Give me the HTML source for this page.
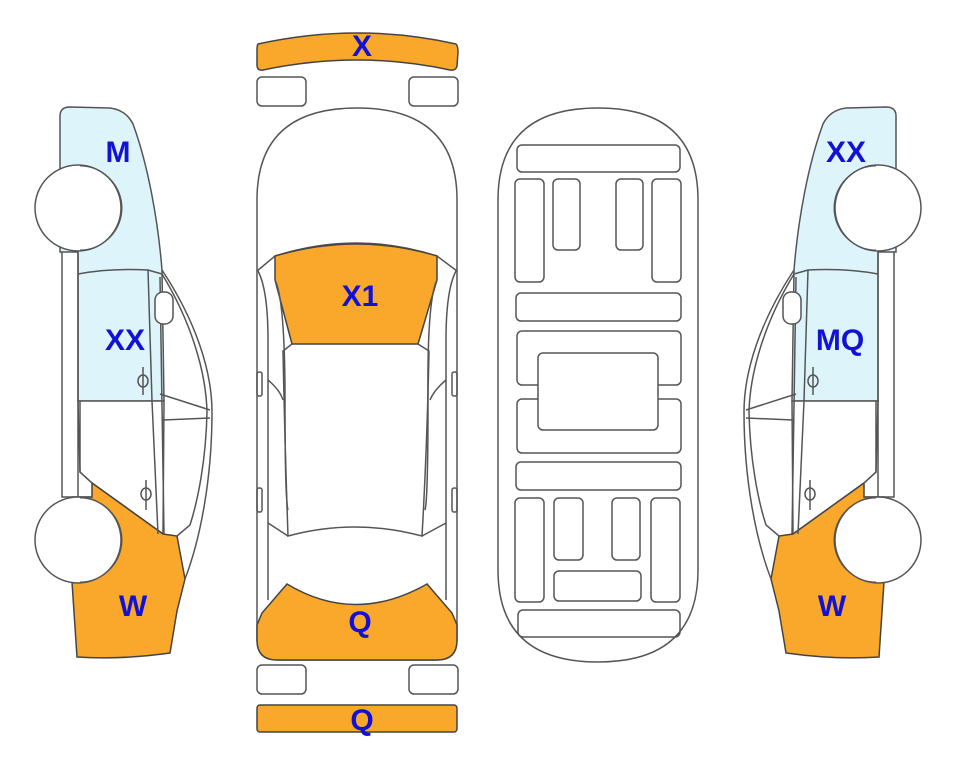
<!DOCTYPE html>
<html><head><meta charset="utf-8"><style>
html,body{margin:0;padding:0;background:#fff;}
svg{display:block;}
text{font-family:"Liberation Sans",Arial,sans-serif;font-weight:bold;fill:#1212D6;font-size:30px;text-anchor:middle;}
</style></head><body>
<svg width="963" height="768" viewBox="0 0 963 768" xmlns="http://www.w3.org/2000/svg">
<defs>
<g id="side" fill="none" stroke="#555" stroke-width="1.5">
  <!-- blue region -->
  <path d="M60,116 Q60,107 70,107 L110,108 Q126,110 133,124 C148,165 158,220 162,270 L164,401 L78,401 L78,252 L60,252 Z" fill="#DDF4FB"/>
  <!-- white lower door -->
  <path d="M78,401 L164,401 L163,534 L92,483 L80,472 Z" fill="#fff"/>
  <!-- orange W -->
  <path d="M92,483 L163,534 L177,536 L185,579 L177,611 L170,653 Q120,660 77,657 L72,582 L72,497 L92,497 Z" fill="#F9A82B" stroke="#444"/>
  <!-- outer contour -->
  <path d="M162,270 C195,320 212,370 212,412 C212,480 200,540 185,579"/>
  <path d="M162,274 C190,320 206,370 207,412 C206,460 198,500 190,525 L177,536"/>
  <!-- pillars -->
  <path d="M62,252 L62,497 L92,497"/>
  <path d="M78,252 L78,497"/>
  <path d="M78,274 Q110,268 148,270 L162,274"/>
  <path d="M148,270 L152,401 L158,534"/>
  <path d="M160,277 L164,534"/>
  <path d="M80,401 L80,472 L92,483"/>
  <path d="M160,394 L210,410"/>
  <path d="M163,420 L210,418"/>
  <rect x="155" y="292" width="18" height="32" rx="8" fill="#fff"/>
  <path d="M143,367 L143,395"/><ellipse cx="143" cy="381" rx="5" ry="6"/>
  <path d="M146,480 L146,510"/><ellipse cx="146" cy="494" rx="5" ry="6"/>
  <!-- wheels -->
  <circle cx="78" cy="208" r="43" fill="#fff"/>
  <path d="M80,166 A42,42 0 0 1 80,250" stroke-width="1"/>
  <circle cx="78" cy="540" r="43" fill="#fff"/>
  <path d="M80,498 A42,42 0 0 1 80,582" stroke-width="1"/>
</g>
</defs>

<use href="#side"/>
<use href="#side" transform="translate(956,0) scale(-1,1)"/>

<text x="118" y="162">M</text>
<text x="125" y="350">XX</text>
<text x="133" y="616">W</text>
<text x="846" y="162">XX</text>
<text x="840" y="350">MQ</text>
<text x="832" y="616">W</text>

<!-- top view -->
<g fill="none" stroke="#555" stroke-width="1.5">
  <path d="M258,44 Q358,22 456,44 Q458,46 458,52 L457,66 Q456,71 450,70 Q358,50 263,70 Q257,71 257,65 L257,50 Q257,45 258,44 Z" fill="#F9A82B" stroke="#444"/>
  <rect x="257" y="77" width="49" height="29" rx="5"/>
  <rect x="409" y="77" width="49" height="29" rx="5"/>
  <path d="M257,640 L257,200 Q257,108 357,108 Q457,108 457,200 L457,640 Q457,660 437,660 L277,660 Q257,660 257,640 Z" fill="#fff"/>
  <path d="M257,271 L275,256 Q357,230 437,256 L457,271"/>
  <path d="M275,256 Q357,232 437,256 L437,280 L418,344 L292,344 L275,280 Z" fill="#F9A82B" stroke="#444"/>
  <path d="M292,344 L283,351 Q285,450 288,536 Q355,518 422,536 Q427,450 429,351 L418,344"/>
  <path d="M258,271 Q268,290 268,340 L268,600"/>
  <path d="M456,271 Q446,290 446,340 L446,600"/>
  <path d="M275,280 Q285,300 285,400 Q285,500 288,510"/>
  <path d="M437,280 Q427,300 428,400 Q428,500 425,510"/>
  <path d="M268,380 Q280,390 283,400"/><path d="M446,380 Q434,390 430,400"/>
  <path d="M268,523 L288,536"/><path d="M446,523 L422,536"/>
  <rect x="257" y="372" width="5" height="24" rx="2"/>
  <rect x="452" y="372" width="5" height="24" rx="2"/>
  <rect x="257" y="488" width="5" height="24" rx="2"/>
  <rect x="452" y="488" width="5" height="24" rx="2"/>
  <path d="M287,584 Q355,625 427,584 L452,613 L457,625 L457,640 Q457,660 437,660 L277,660 Q257,660 257,640 L257,625 L262,613 Z" fill="#F9A82B" stroke="#444"/>
  <rect x="257" y="665" width="49" height="29" rx="5"/>
  <rect x="409" y="665" width="49" height="29" rx="5"/>
  <rect x="257" y="705" width="200" height="27" rx="3" fill="#F9A82B" stroke="#444"/>
</g>
<text x="362" y="56">X</text>
<text x="360" y="306">X1</text>
<text x="360" y="632">Q</text>
<text x="362" y="730">Q</text>

<!-- underbody -->
<g fill="none" stroke="#555" stroke-width="1.5">
  <path d="M498,200 Q498,108 598,108 Q698,108 698,200 L698,570 Q698,662 598,662 Q498,662 498,570 Z" fill="#fff"/>
  <rect x="517" y="145" width="163" height="27" rx="5"/>
  <rect x="515" y="179" width="29" height="103" rx="5"/>
  <rect x="553" y="179" width="27" height="71" rx="5"/>
  <rect x="616" y="179" width="27" height="71" rx="5"/>
  <rect x="652" y="179" width="29" height="103" rx="5"/>
  <rect x="516" y="293" width="165" height="28" rx="5"/>
  <rect x="517" y="331" width="164" height="54" rx="5"/>
  <rect x="517" y="399" width="164" height="54" rx="5"/>
  <rect x="538" y="353" width="120" height="77" rx="5" fill="#fff"/>
  <rect x="516" y="462" width="165" height="28" rx="5"/>
  <rect x="515" y="498" width="29" height="104" rx="5"/>
  <rect x="554" y="498" width="29" height="62" rx="5"/>
  <rect x="612" y="498" width="28" height="62" rx="5"/>
  <rect x="651" y="498" width="29" height="104" rx="5"/>
  <rect x="554" y="571" width="87" height="30" rx="5"/>
  <rect x="518" y="610" width="162" height="27" rx="5"/>
</g>
</svg>
</body></html>
